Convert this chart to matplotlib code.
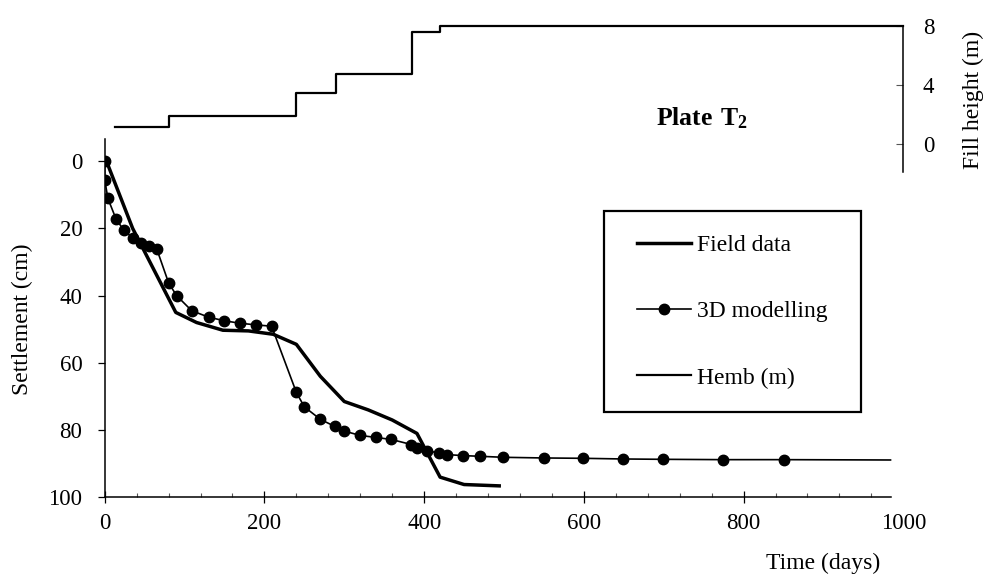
import matplotlib
matplotlib.use("Agg")
import matplotlib.pyplot as plt
from matplotlib.patches import Rectangle

plt.rcParams["font.family"] = ["Liberation Serif", "DejaVu Serif"]
plt.rcParams["mathtext.fontset"] = "custom"
plt.rcParams["mathtext.rm"] = "Liberation Serif"
plt.rcParams["mathtext.bf"] = "Liberation Serif:bold"

# ----- Data -----
# fill height steps (m)
fill_days = [13, 80, 240, 290, 385, 420, 1000]
fill_height = [1.1, 1.85, 3.45, 4.7, 7.55, 8.0, 8.0]

# field settlement (cm)
field_days = [3, 35, 89, 115, 148, 180, 211, 240, 270, 300, 330, 360, 391, 420, 450, 494]
field_settl = [0.5, 20, 45, 48, 50.3, 50.5, 51.5, 54.5, 64, 71.5, 74, 77, 81, 94, 96.2, 96.6]

# 3D modelling settlement (cm); last point only continues the line
model_days = [0, 0, 4, 14, 24, 35, 45, 55, 65, 80, 90, 109, 130, 150, 169, 189, 209,
              240, 250, 270, 288, 300, 320, 340, 359, 384, 391, 404, 419, 429, 449,
              470, 499, 550, 599, 649, 699, 774, 850, 984]
model_settl = [0, 5.5, 11.1, 17.1, 20.6, 22.8, 24.3, 25.3, 26.0, 36.2, 40, 44.5, 46.4,
               47.5, 48.2, 48.7, 49.1, 68.8, 73.1, 76.8, 78.9, 80.3, 81.6, 82.2, 82.8,
               84.3, 85.3, 86.1, 86.9, 87.3, 87.6, 87.8, 88.1, 88.3, 88.4, 88.6, 88.7,
               88.8, 88.8, 88.9]

W, H = 984, 574
fig = plt.figure(figsize=(W / 100, H / 100), dpi=100)

def px_box(x0, y0, x1, y1):
    # pixel box (top-left origin) -> figure fraction rect
    return [x0 / W, 1 - y1 / H, (x1 - x0) / W, (y1 - y0) / H]

# ----- Fill height axes (top) -----
ax_top = fig.add_axes(px_box(104.7, 25.7, 903.3, 171.7))
ax_top.patch.set_alpha(0)
ax_top.plot(fill_days, fill_height, color="black", lw=1.6, drawstyle="steps-post",
            clip_on=False, label="Hemb (m)")
ax_top.set_xlim(0, 1000)
ax_top.set_ylim(-1.9, 8)
for s in ["top", "left", "bottom"]:
    ax_top.spines[s].set_visible(False)
ax_top.spines["right"].set_linewidth(1.1)
ax_top.xaxis.set_visible(False)
ax_top.yaxis.tick_right()
ax_top.set_yticks([0, 4, 8])
ax_top.tick_params(axis="y", direction="in", length=5, width=0.8, pad=14,
                   labelsize=16.5, color="#555555")

# ----- Settlement axes (main) -----
ax = fig.add_axes(px_box(104.7, 139.3, 903.3, 497.3))
ax.patch.set_alpha(0)
ax.plot(field_days, field_settl, color="black", lw=2.5, label="Field data")
ax.plot(model_days, model_settl, color="black", lw=1.2, marker="o", markersize=7.5,
        markevery=list(range(len(model_days) - 1)), label="3D modelling")
ax.set_xlim(0, 1000)
ax.set_ylim(100, -6.5)
ax.spines["top"].set_visible(False)
ax.spines["right"].set_visible(False)
ax.spines["left"].set_linewidth(1.1)
ax.spines["bottom"].set_linewidth(1.1)
ax.spines["bottom"].set_bounds(0, 984)
ax.set_yticks([0, 20, 40, 60, 80, 100])
ax.set_xticks([0, 200, 400, 600, 800, 1000])
ax.set_xticks(range(40, 1000, 40), minor=True)
ax.tick_params(axis="y", direction="out", length=5, width=0.9, pad=11, labelsize=16.5)
ax.tick_params(axis="x", which="major", direction="inout", length=9, width=0.9, pad=7,
               labelsize=16.5)
ax.tick_params(axis="x", which="minor", direction="in", length=3.2, width=0.8,
               color="#555555")
ax.xaxis.get_major_ticks()[-1].tick1line.set_visible(False)

# axis titles
fig.text(22 / W, 1 - 319 / H, "Settlement (cm)", rotation=90, ha="center", va="center",
         fontsize=17)
fig.text(973 / W, 1 - 100 / H, "Fill height (m)", rotation=90, ha="center", va="center",
         fontsize=17)
fig.text(823 / W, 1 - 569 / H, "Time (days)", ha="center", va="baseline", fontsize=17)
fig.text(702 / W, 1 - 125 / H, r"$\mathbf{Plate\ T_2}$", ha="center", va="baseline",
         fontsize=18.5)

# legend with a separate frame
fig.patches.append(Rectangle((604 / W, 1 - 412.3 / H), 257 / W, 201.6 / H,
                             transform=fig.transFigure, fill=False, lw=1.6,
                             edgecolor="black"))
handles = ax.get_legend_handles_labels()[0] + ax_top.get_legend_handles_labels()[0]
ax.legend(handles=handles, loc="center", bbox_to_anchor=(732.5 / W, 1 - 311.5 / H),
          bbox_transform=fig.transFigure, frameon=False, fontsize=17, numpoints=1,
          handlelength=2.3, handletextpad=0.25, labelspacing=1.9)

fig.savefig("out.png", dpi=100)
